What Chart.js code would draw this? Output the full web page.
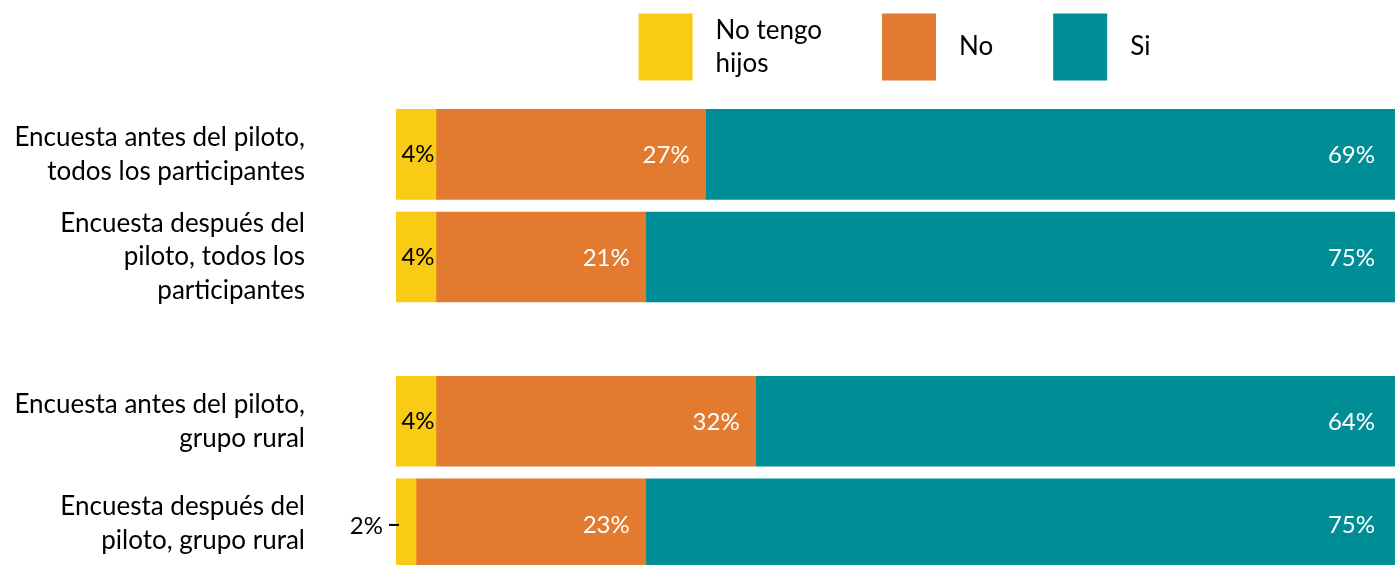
<!DOCTYPE html>
<html>
<head>
<meta charset="utf-8">
<script src="https://cdn.jsdelivr.net/npm/chart.js@4.4.0/dist/chart.umd.min.js"></script>
<style>
    html, body { margin: 0; padding: 0; background: #fff; }
    #wrap { width: 1398px; height: 565px; }
</style>
</head>
<body>
<div id="wrap"><canvas id="chart-bars"></canvas></div>
<script>
const rowLabels = [
    ['Encuesta antes del piloto,', 'todos los participantes'],
    ['Encuesta después del', 'piloto, todos los', 'participantes'],
    ['Encuesta antes del piloto,', 'grupo rural'],
    ['Encuesta después del', 'piloto, grupo rural']
];
const seriesNames = [['No tengo', 'hijos'], ['No'], ['Si']];
const noChildren = [4, 4, 4, 2];
const noValues = [27, 21, 32, 23];
const siValues = [69, 75, 64, 75];

const seriesColors = ['#FACB14', '#E27A30', '#008E96'];
const labelColors = ['#000', '#fff', '#fff'];

// the two rural rows sit a bit lower, as a second group
const rowPos = rowLabels.map((l, i) => i + (i >= 2 ? 0.6 : 0));

Chart.defaults.font.family = 'Lato';

const toPoints = (vals) => vals.map((v, i) => ({ x: v, y: rowPos[i] }));

// percent labels on the bars
const barLabels = {
    id: 'barLabels',
    afterDatasetsDraw(chart) {
        const ctx = chart.ctx;
        ctx.save();
        ctx.font = '24px Lato';
        ctx.textBaseline = 'middle';
        chart.data.datasets.forEach((ds, di) => {
            chart.getDatasetMeta(di).data.forEach((bar, i) => {
                const v = ds.data[i].x;
                const txt = v + '%';
                const left = Math.min(bar.base, bar.x);
                const right = Math.max(bar.base, bar.x);
                ctx.fillStyle = labelColors[di];
                if (di === 0) {
                    if (v < 3) {
                        // too thin, put it outside with a little leader
                        ctx.fillStyle = '#000';
                        ctx.textAlign = 'right';
                        ctx.fillText(txt, left - 13, bar.y + 2);
                        ctx.strokeStyle = '#000';
                        ctx.lineWidth = 2;
                        ctx.beginPath();
                        ctx.moveTo(left - 7, bar.y + 1);
                        ctx.lineTo(left + 3, bar.y + 1);
                        ctx.stroke();
                    } else {
                        ctx.textAlign = 'center';
                        ctx.fillText(txt, (left + right) / 2 + 2, bar.y);
                    }
                } else {
                    ctx.textAlign = 'right';
                    ctx.fillText(txt, right - (di === 1 ? 16 : 20), bar.y + 1);
                }
            });
        });
        ctx.restore();
    }
};

// big swatch legend above the bars
const boxLegend = {
    id: 'boxLegend',
    afterDraw(chart) {
        const ctx = chart.ctx;
        const area = chart.chartArea;
        const boxW = 54, boxH = 67, textGap = 23, itemGap = 60, lineH = 33, midY = 47;
        ctx.save();
        ctx.font = '26px Lato';
        ctx.textBaseline = 'middle';
        ctx.textAlign = 'left';
        const widths = seriesNames.map(lines =>
            boxW + textGap + Math.max(...lines.map(t => ctx.measureText(t).width)));
        const total = widths.reduce((a, b) => a + b, 0) + itemGap * (widths.length - 1);
        let x = (area.left + area.right) / 2 - total / 2 - 1;
        seriesNames.forEach((lines, k) => {
            ctx.fillStyle = seriesColors[k];
            ctx.fillRect(x, midY - boxH / 2, boxW, boxH);
            ctx.fillStyle = '#000';
            const y0 = midY - (lines.length - 1) * lineH / 2;
            lines.forEach((t, j) => ctx.fillText(t, x + boxW + textGap, y0 + j * lineH));
            x += widths[k] + itemGap;
        });
        ctx.restore();
    }
};

const ctx = document.getElementById('chart-bars').getContext('2d');

new Chart(ctx, {
    type: 'bar',
    data: {
        datasets: [{
                label: seriesNames[0].join(' '),
                data: toPoints(noChildren),
                backgroundColor: seriesColors[0]
            },
            {
                label: seriesNames[1].join(' '),
                data: toPoints(noValues),
                backgroundColor: seriesColors[1]
            },
            {
                label: seriesNames[2].join(' '),
                data: toPoints(siValues),
                backgroundColor: seriesColors[2]
            }
        ]
    },
    options: {
        indexAxis: 'y',
        responsive: true,
        maintainAspectRatio: false,
        animation: false,
        layout: {
            padding: { top: 103, right: 3, left: 0, bottom: 0 }
        },
        datasets: {
            bar: {
                barThickness: 90,
                borderWidth: 0
            }
        },
        plugins: {
            legend: { display: false },
            tooltip: { enabled: false }
        },
        scales: {
            x: {
                type: 'linear',
                stacked: true,
                min: 0,
                max: 100,
                display: false
            },
            y: {
                type: 'linear',
                stacked: true,
                reverse: true,
                offset: false,
                min: -0.5,
                max: 4.0,
                grid: { display: false, drawTicks: false },
                border: { display: false },
                afterBuildTicks: (scale) => {
                    scale.ticks = rowPos.map(v => ({ value: v }));
                },
                afterFit: (scale) => {
                    // the big tick padding is only meant to push labels left
                    scale.width = 396;
                    scale.paddingTop = 0;
                    scale.paddingBottom = 0;
                },
                ticks: {
                    autoSkip: false,
                    padding: 91,
                    color: '#000',
                    font: { size: 26, family: 'Lato', lineHeight: 1.3 },
                    callback: (value, index) => rowLabels[index]
                }
            }
        }
    },
    plugins: [barLabels, boxLegend]
});
</script>
</body>
</html>
